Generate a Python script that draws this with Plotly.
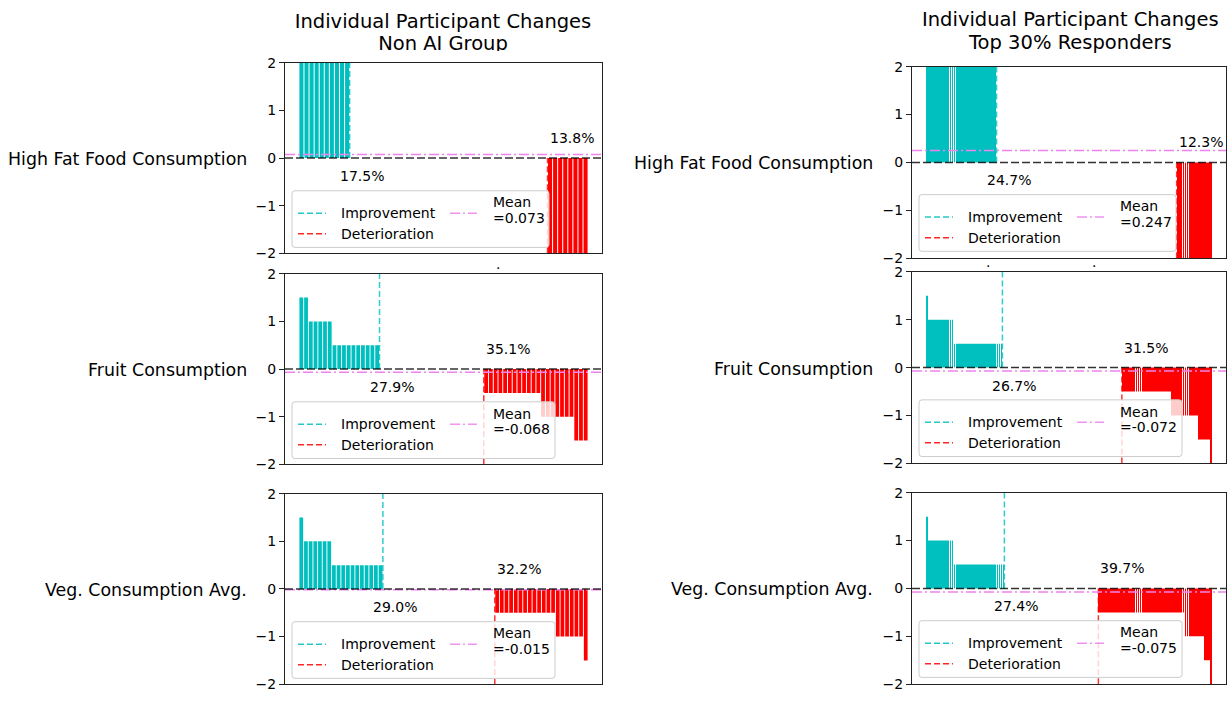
import numpy as np
import plotly.graph_objects as go

W, H = 1231, 702
FONT = "DejaVu Sans"

MEASURES = ["High Fat Food Consumption", "Fruit Consumption", "Veg. Consumption Avg."]

# Change levels, ordered from largest improvement to largest deterioration
LEVELS = [2.0, 1.5, 1.0, 0.5, 0.0, -0.5, -1.0, -1.5, -2.0]

# Number of participants at each change level (same order as LEVELS)
nonai_highfat = [10, 0, 0, 0, 39, 0, 0, 0, 8]
nonai_fruit = [0, 2, 5, 10, 22, 12, 7, 3, 0]
nonai_veg = [0, 1, 6, 11, 24, 13, 6, 1, 0]

top30_highfat = [36, 0, 0, 0, 92, 0, 0, 0, 18]
top30_fruit = [0, 1, 13, 25, 61, 25, 14, 6, 1]
top30_veg = [0, 1, 13, 26, 48, 44, 10, 3, 1]

# Group means and shares of improved / deteriorated participants (%)
nonai_mean = [0.073, -0.068, -0.015]
top30_mean = [0.247, -0.072, -0.075]
nonai_imp_pct = [17.5, 27.9, 29.0]
nonai_det_pct = [13.8, 35.1, 32.2]
top30_imp_pct = [24.7, 26.7, 27.4]
top30_det_pct = [12.3, 31.5, 39.7]

TITLES = [["Individual Participant Changes", "Non AI Group"],
          ["Individual Participant Changes", "Top 30% Responders"]]

CYAN = "rgb(0,191,191)"
RED = "rgb(255,0,0)"
VIOLET = "rgb(238,130,238)"

# Panel boxes in pixels: (left, right, top, bottom)
LEFT_X = (285, 602)
RIGHT_X = (912, 1226)
LEFT_ROWS = [(56, 251), (272, 467), (497, 692)]
RIGHT_ROWS = [(60, 256), (270, 466), (496, 692)]


def xp(px):
    return px / W


def yp(py):
    return 1 - py / H


groups = [
    dict(counts=[nonai_highfat, nonai_fruit, nonai_veg], mean=nonai_mean,
         imp=nonai_imp_pct, det=nonai_det_pct, xs=LEFT_X, rows=LEFT_ROWS,
         label_x=249, legend_off=6, bar_w=0.8),
    dict(counts=[top30_highfat, top30_fruit, top30_veg], mean=top30_mean,
         imp=top30_imp_pct, det=top30_det_pct, xs=RIGHT_X, rows=RIGHT_ROWS,
         label_x=875, legend_off=7, bar_w=0.4),
]

fig = go.Figure()
layout = dict(
    width=W, height=H, margin=dict(l=0, r=0, t=0, b=0),
    paper_bgcolor="white", plot_bgcolor="white", showlegend=False,
    font=dict(family=FONT, size=14, color="#000"),
)
shapes = []
annotations = []

k = 0
for g in groups:
    x0, x1 = g["xs"]
    for r in range(3):
        k += 1
        y0, y1 = g["rows"][r]
        sfx = "" if k == 1 else str(k)
        xa, ya = f"x{sfx}", f"y{sfx}"
        values = np.repeat(LEVELS, g["counts"][r])
        n = len(values)
        idx = np.arange(n)
        nz = values != 0
        colors = [CYAN if v > 0 else RED for v in values[nz]]
        fig.add_trace(go.Bar(
            x=idx[nz], y=values[nz], width=g["bar_w"],
            marker=dict(color=colors, line=dict(width=0)),
            xaxis=xa, yaxis=ya, hoverinfo="skip", showlegend=False,
        ))
        span = n - 0.2
        layout[f"xaxis{sfx}"] = dict(
            domain=[xp(x0), xp(x1)], anchor=ya,
            range=[-0.4 - 0.05 * span, n - 0.6 + 0.05 * span],
            showticklabels=False, ticks="", showgrid=False, zeroline=False,
            showline=True, mirror=True, linecolor="#222", linewidth=1,
        )
        layout[f"yaxis{sfx}"] = dict(
            domain=[yp(y1), yp(y0)], anchor=xa, range=[-2, 2],
            tickvals=[-2, -1, 0, 1, 2], ticktext=["\u22122", "\u22121", "0", "1", "2"],
            ticks="outside", ticklen=5, tickwidth=1, tickcolor="#222",
            tickfont=dict(size=14, family=FONT, color="#000"),
            showgrid=False, zeroline=False,
            showline=True, mirror=True, linecolor="#222", linewidth=1,
        )

        n_imp = int((values > 0).sum())
        n_det = int((values < 0).sum())
        imp_x = n_imp - 0.5
        det_x = n - n_det - 0.5
        mean = g["mean"][r]

        # Boundaries of improved / deteriorated participants
        shapes.append(dict(type="line", xref=xa, yref=ya, x0=imp_x, x1=imp_x, y0=0, y1=2,
                           line=dict(color=CYAN, width=1.5, dash="6px,3px"), opacity=0.8,
                           layer="above"))
        shapes.append(dict(type="line", xref=xa, yref=ya, x0=det_x, x1=det_x, y0=-2, y1=0,
                           line=dict(color=RED, width=1.5, dash="6px,3px"), opacity=0.8,
                           layer="above"))
        # Mean and zero reference lines
        shapes.append(dict(type="line", xref=f"{xa} domain", yref=ya, x0=0, x1=1, y0=mean, y1=mean,
                           line=dict(color=VIOLET, width=1.5, dash="10px,3px,2px,3px"),
                           layer="above"))
        shapes.append(dict(type="line", xref=f"{xa} domain", yref=ya, x0=0, x1=1, y0=0, y1=0,
                           line=dict(color="rgba(0,0,0,0.8)", width=1.5, dash="8px,3px"),
                           layer="above"))

        annotations.append(dict(xref=xa, yref=ya, x=imp_x, y=0, xshift=12, yshift=-18,
                                text=f"{g['imp'][r]:.1f}%", showarrow=False,
                                xanchor="center", yanchor="middle", font=dict(size=14)))
        annotations.append(dict(xref=xa, yref=ya, x=det_x, y=0, xshift=0, yshift=20,
                                text=f"{g['det'][r]:.1f}%", showarrow=False,
                                xanchor="left", yanchor="middle", font=dict(size=14)))

        # Row label
        zero_py = (y0 + y1) / 2
        annotations.append(dict(xref="paper", yref="paper", x=xp(g["label_x"]), y=yp(zero_py + 1),
                                text=MEASURES[r], showarrow=False, xanchor="right",
                                yanchor="middle", font=dict(size=17.4)))

        # Legend box
        lw = 257 if mean >= 0 else 263
        L = x0 + 7
        B = y1 - g["legend_off"]
        T = B - 58
        R = L + lw
        rr = 3
        path = (f"M {xp(L + rr)},{yp(T)} L {xp(R - rr)},{yp(T)} Q {xp(R)},{yp(T)} {xp(R)},{yp(T + rr)} "
                f"L {xp(R)},{yp(B - rr)} Q {xp(R)},{yp(B)} {xp(R - rr)},{yp(B)} "
                f"L {xp(L + rr)},{yp(B)} Q {xp(L)},{yp(B)} {xp(L)},{yp(B - rr)} "
                f"L {xp(L)},{yp(T + rr)} Q {xp(L)},{yp(T)} {xp(L + rr)},{yp(T)} Z")
        shapes.append(dict(type="path", xref="paper", yref="paper", path=path,
                           fillcolor="rgba(255,255,255,0.8)", line=dict(color="#cccccc", width=1),
                           layer="above"))
        for (sx0, sx1, sy, col, dash) in [
            (L + 6, L + 34, T + 23, CYAN, "6px,3px"),
            (L + 6, L + 34, T + 44, RED, "6px,3px"),
            (L + 158, L + 185, T + 23, VIOLET, "10px,3px,2px,3px"),
        ]:
            shapes.append(dict(type="line", xref="paper", yref="paper", x0=xp(sx0), x1=xp(sx1),
                               y0=yp(sy), y1=yp(sy), line=dict(color=col, width=1.5, dash=dash),
                               opacity=0.85, layer="above"))
        for (tx, ty, txt) in [
            (L + 47, T + 23, "Improvement"),
            (L + 47, T + 44, "Deterioration"),
            (L + 199, T + 12, "Mean"),
            (L + 199, T + 28, f"={mean:.3f}"),
        ]:
            annotations.append(dict(xref="paper", yref="paper", x=xp(tx), y=yp(ty), text=txt,
                                    showarrow=False, xanchor="left", yanchor="middle",
                                    font=dict(size=14)))

# Left title: drawn as text on a thin top strip so its lower edge is clipped
fig.add_trace(go.Scatter(
    x=[443, 443], y=[15, 38], mode="text", text=TITLES[0],
    textfont=dict(size=19.5, family=FONT, color="#000"), textposition="middle center",
    cliponaxis=True, xaxis="x7", yaxis="y7", hoverinfo="skip", showlegend=False,
))
layout["xaxis7"] = dict(domain=[0, 1], range=[0, W], visible=False, anchor="y7")
layout["yaxis7"] = dict(domain=[yp(44), 1], range=[44, 0], visible=False, anchor="x7")

for ty, txt in zip([12, 35], TITLES[1]):
    annotations.append(dict(xref="paper", yref="paper", x=xp(1070), y=yp(ty), text=txt,
                            showarrow=False, xanchor="center", yanchor="middle",
                            font=dict(size=19.5)))

# Small stray tick marks under the first row
for (dx, dy) in [(498, 262), (988, 260), (1094, 260)]:
    annotations.append(dict(xref="paper", yref="paper", x=xp(dx), y=yp(dy), text=".",
                            showarrow=False, xanchor="center", yanchor="middle",
                            font=dict(size=14)))

layout["shapes"] = shapes
layout["annotations"] = annotations
fig.update_layout(**layout)
fig.write_html("out.html")
